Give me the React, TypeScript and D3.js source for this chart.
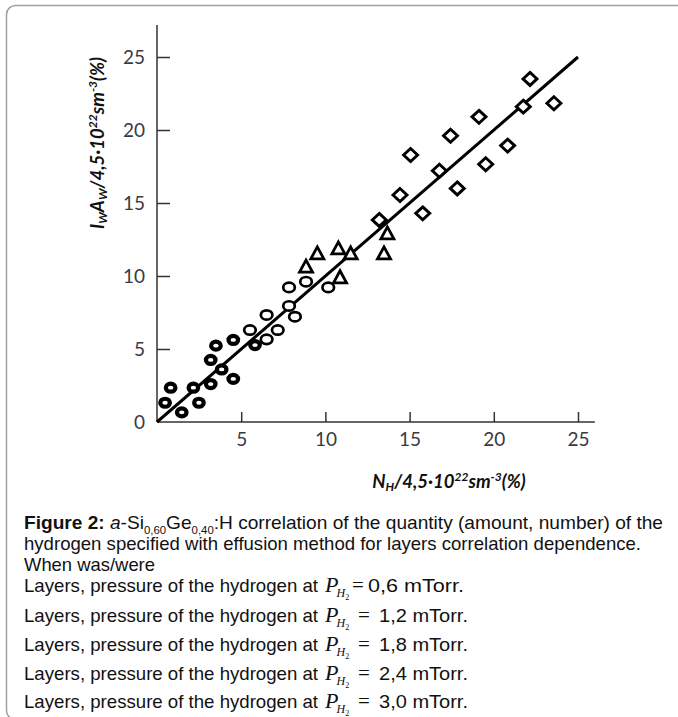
import React, { useEffect, useRef } from 'react'
import * as d3 from 'd3'

// values, [N_H, I_W A_W] in %
const filledRings = [
  [0.48, 1.32], [0.81, 2.35], [1.47, 0.66], [2.16, 2.35], [2.49, 1.32], [3.19, 2.6],
  [3.19, 4.25], [3.5, 5.23], [3.84, 3.6], [4.53, 2.95], [4.53, 5.62], [5.82, 5.27],
]
const openRings = [
  [5.52, 6.3], [6.51, 5.66], [6.51, 7.33], [7.17, 6.3], [7.84, 9.22], [7.84, 7.95],
  [8.19, 7.21], [8.85, 9.61], [10.17, 9.22],
]
const triangles = [
  [8.85, 10.64], [9.52, 11.55], [10.77, 11.89], [10.87, 9.91], [11.5, 11.55],
  [13.48, 11.55], [13.68, 12.92],
]
const diamonds = [
  [13.2, 13.84], [14.43, 15.55], [15.78, 14.29], [15.06, 18.29], [16.77, 17.21],
  [17.43, 19.61], [17.83, 16.0], [19.12, 20.9], [19.52, 17.65], [20.82, 18.93],
  [21.75, 21.6], [22.15, 23.5], [23.57, 21.83],
]
const fitLine = [[0, 0], [25, 25]]
const xTicks = [5, 10, 15, 20, 25]
const yTicks = [0, 5, 10, 15, 20, 25]
const pressures = ['0,6', '1,2', '1,8', '2,4', '3,0']

const axisFont = 'Lato, "Open Sans", sans-serif'
const capFont = '"Liberation Sans", Arial, sans-serif'
const mathFont = '"Liberation Serif", "Times New Roman", serif'

export default function App() {
  const ref = useRef(null)

  useEffect(() => {
    const svg = d3.select(ref.current)
    svg.selectAll('*').remove()

    // frame
    svg.append('rect')
      .attr('x', 6.5).attr('y', 5.5)
      .attr('width', 720).attr('height', 714)
      .attr('rx', 9)
      .attr('fill', 'none')
      .attr('stroke', '#a0a0a0')
      .attr('stroke-width', 1.5)

    var x = d3.scaleLinear().domain([0, 25]).range([157, 578])
    var y = d3.scaleLinear().domain([0, 25]).range([422, 57])

    var g = svg.append('g')

    // axes lines
    g.append('line')
      .attr('x1', x(0)).attr('x2', x(0))
      .attr('y1', y(0)).attr('y2', y(27.2))
      .attr('stroke', '#333').attr('stroke-width', 1.5)
    g.append('line')
      .attr('x1', x(0)).attr('x2', x(26))
      .attr('y1', y(0)).attr('y2', y(0))
      .attr('stroke', '#333').attr('stroke-width', 1.5)

    var yAxis = g.append('g')
      .attr('transform', 'translate(' + x(0) + ',0)')
      .call(d3.axisLeft(y).tickValues(yTicks).tickSizeInner(-13).tickSizeOuter(0).tickPadding(12))
    var xAxis = g.append('g')
      .attr('transform', 'translate(0,' + y(0) + ')')
      .call(d3.axisBottom(x).tickValues(xTicks).tickSizeInner(-10).tickSizeOuter(0).tickPadding(11))

    ;[yAxis, xAxis].forEach(function(a) {
      a.select('.domain').remove()
      a.selectAll('line').attr('stroke', '#333').attr('stroke-width', 1.5)
      a.selectAll('text')
        .attr('font-family', axisFont)
        .attr('font-size', 19)
        .attr('fill', '#3a3a44')
    })
    yAxis.selectAll('.tick').filter(function(d) { return d === 0 }).select('line').remove()

    // regression line
    g.append('path')
      .attr('d', d3.line().x(function(d) { return x(d[0]) }).y(function(d) { return y(d[1]) })(fitLine))
      .attr('stroke', '#000')
      .attr('stroke-width', 3)
      .attr('fill', 'none')

    // markers
    g.selectAll('.filled')
      .data(filledRings)
      .enter()
      .append('ellipse')
      .attr('cx', function(d) { return x(d[0]) })
      .attr('cy', function(d) { return y(d[1]) })
      .attr('rx', 4.8).attr('ry', 4.0)
      .attr('fill', '#fff').attr('stroke', '#000').attr('stroke-width', 4.2)

    g.selectAll('.open')
      .data(openRings)
      .enter()
      .append('ellipse')
      .attr('cx', function(d) { return x(d[0]) })
      .attr('cy', function(d) { return y(d[1]) })
      .attr('rx', 5.8).attr('ry', 4.7)
      .attr('fill', '#fff').attr('stroke', '#000').attr('stroke-width', 2.7)

    g.selectAll('.tri')
      .data(triangles)
      .enter()
      .append('path')
      .attr('d', 'M-6.5,5.5L6.5,5.5L0,-6.5Z')
      .attr('transform', function(d) { return 'translate(' + x(d[0]) + ',' + y(d[1]) + ')' })
      .attr('fill', '#fff').attr('stroke', '#000').attr('stroke-width', 2.8)

    g.selectAll('.dia')
      .data(diamonds)
      .enter()
      .append('path')
      .attr('d', 'M0,-6.5L7,0L0,6.5L-7,0Z')
      .attr('transform', function(d) { return 'translate(' + x(d[0]) + ',' + y(d[1]) + ')' })
      .attr('fill', '#fff').attr('stroke', '#000').attr('stroke-width', 2.9)

    // axis titles
    var yt = svg.append('text')
      .attr('transform', 'translate(104,143) rotate(-90)')
      .attr('text-anchor', 'middle')
      .attr('font-family', axisFont)
      .attr('font-size', 18.5)
      .attr('font-weight', 'bold')
      .attr('font-style', 'italic')
      .attr('fill', '#111')
    yt.append('tspan').text('I')
    yt.append('tspan').attr('font-size', 12).attr('dy', 3).text('W')
    yt.append('tspan').attr('dy', -3).text('A')
    yt.append('tspan').attr('font-size', 12).attr('dy', 3).text('W')
    yt.append('tspan').attr('dy', -3).text('/4,5·10')
    yt.append('tspan').attr('font-size', 12).attr('dy', -7).text('22')
    yt.append('tspan').attr('dy', 7).text('sm')
    yt.append('tspan').attr('font-size', 12).attr('dy', -7).text('-3')
    yt.append('tspan').attr('dy', 7).text('(%)')

    var xt = svg.append('text')
      .attr('x', 449).attr('y', 488)
      .attr('text-anchor', 'middle')
      .attr('font-family', axisFont)
      .attr('font-size', 18.5)
      .attr('font-weight', 'bold')
      .attr('font-style', 'italic')
      .attr('fill', '#111')
    xt.append('tspan').text('N')
    xt.append('tspan').attr('font-size', 12).attr('dy', 3).text('H')
    xt.append('tspan').attr('dy', -3).text('/4,5·10')
    xt.append('tspan').attr('font-size', 12).attr('dy', -7).text('22')
    xt.append('tspan').attr('dy', 7).text('sm')
    xt.append('tspan').attr('font-size', 12).attr('dy', -7).text('-3')
    xt.append('tspan').attr('dy', 7).text('(%)')

    // caption
    var cap = svg.append('g')
      .attr('font-family', capFont)
      .attr('font-size', 18.5)
      .attr('fill', '#111')

    var l1 = cap.append('text').attr('x', 24).attr('y', 529)
      .attr('textLength', 639).attr('lengthAdjust', 'spacingAndGlyphs')
    l1.append('tspan').attr('font-weight', 'bold').text('Figure 2: ')
    l1.append('tspan').attr('font-style', 'italic').text('a')
    l1.append('tspan').text('-Si')
    l1.append('tspan').attr('font-size', 11).attr('dy', 5).text('0,60')
    l1.append('tspan').attr('dy', -5).text('Ge')
    l1.append('tspan').attr('font-size', 11).attr('dy', 5).text('0,40')
    l1.append('tspan').attr('dy', -5).text(':H correlation of the quantity (amount, number) of the')

    cap.append('text').attr('x', 24).attr('y', 550)
      .attr('textLength', 617).attr('lengthAdjust', 'spacingAndGlyphs')
      .text('hydrogen specified with effusion method for layers correlation dependence.')
    cap.append('text').attr('x', 24).attr('y', 571)
      .attr('textLength', 131).attr('lengthAdjust', 'spacingAndGlyphs')
      .text('When was/were')

    pressures.forEach(function(p, i) {
      var by = 592 + (i === 0 ? 0 : 30 + (i - 1) * 29) - (i === 4 ? 1 : 0)
      cap.append('text').attr('x', 24).attr('y', by)
        .attr('textLength', 294).attr('lengthAdjust', 'spacingAndGlyphs')
        .text('Layers, pressure of the hydrogen at')
      var pm = cap.append('text').attr('x', 325).attr('y', by)
        .attr('font-family', mathFont)
        .attr('font-style', 'italic')
        .attr('font-size', 22)
      pm.append('tspan').text('P')
      pm.append('tspan').attr('font-size', 12).attr('dy', 5).attr('dx', -2).text('H')
      pm.append('tspan').attr('font-size', 8).attr('dy', 3).attr('font-style', 'normal').text('2')
      cap.append('text').attr('x', i === 0 ? 352 : 358).attr('y', by)
        .attr('font-family', mathFont)
        .attr('font-size', 21)
        .text('=')
      cap.append('text').attr('x', i === 0 ? 368 : 379).attr('y', by)
        .attr('textLength', i === 0 ? 96 : 89).attr('lengthAdjust', 'spacingAndGlyphs')
        .text(p + ' mTorr.')
    })
  }, [])

  return (
    <svg ref={ref} width={678} height={717}
      style={{ position: 'absolute', left: 0, top: 0, background: '#fff' }} />
  )
}
